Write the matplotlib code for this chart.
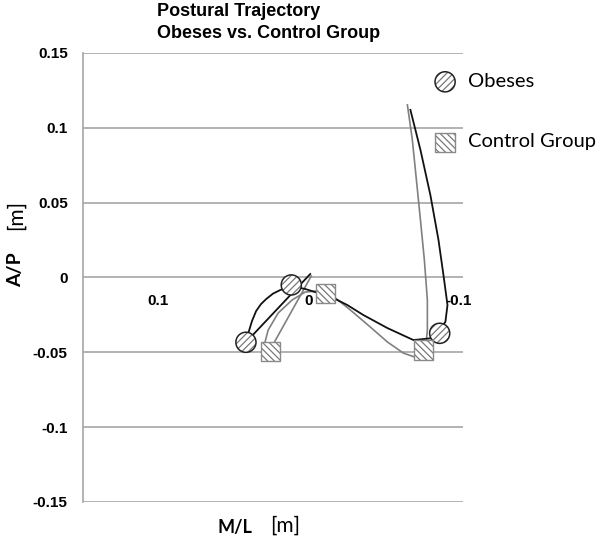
import matplotlib
matplotlib.use("Agg")
import matplotlib.pyplot as plt

plt.rcParams['hatch.color'] = '#7a7a7a'
plt.rcParams['hatch.linewidth'] = 0.9

# Obeses trajectory (black line)
ob_traj_x = [-0.0013, 0.0415, 0.0397, 0.0375, 0.0347, 0.0315, 0.028, 0.0235, 0.0187, 0.0113,
             0.002, -0.0067, -0.0167, -0.026, -0.0367, -0.0527, -0.07, -0.0827, -0.0913,
             -0.0927, -0.09, -0.0867, -0.0813, -0.0747, -0.068]
ob_traj_y = [0.0023, -0.0433, -0.0365, -0.0292, -0.0224, -0.0178, -0.0144, -0.0108, -0.0084, -0.0057,
             -0.0077, -0.0104, -0.0137, -0.0184, -0.0251, -0.0338, -0.0418, -0.0405, -0.0297,
             -0.0184, 0.0017, 0.0251, 0.0551, 0.0852, 0.112]

# Control group trajectory (gray line)
cg_traj_x = [-0.002, 0.024, 0.0293, 0.0267, 0.02, 0.0107, 0.002, -0.0067, -0.018,
             -0.028, -0.0413, -0.0527, -0.0633, -0.0727, -0.078, -0.0793, -0.0793,
             -0.0773, -0.0747, -0.072, -0.0693, -0.066]
cg_traj_y = [0.001, -0.0458, -0.0451, -0.0351, -0.0237, -0.015, -0.0097, -0.009, -0.0137,
             -0.0217, -0.0331, -0.0431, -0.0505, -0.0538, -0.0485, -0.0351, -0.015,
             0.0117, 0.0384, 0.0652, 0.0919, 0.1153]

# Key points (markers)
ob_pts_x = [0.0415, 0.0113, -0.0875]
ob_pts_y = [-0.0433, -0.005, -0.0373]
cg_pts_x = [0.0253, -0.0113, -0.0769]
cg_pts_y = [-0.0496, -0.0106, -0.0485]

y_ticks = [-0.15, -0.1, -0.05, 0, 0.05, 0.1, 0.15]
y_labels = ['-0.15', '-0.1', '-0.05', '0', '0.05', '0.1', '0.15']
x_ticks = [0.1, 0, -0.1]
x_labels = ['0.1', '0', '-0.1']

fig = plt.figure(figsize=(6, 5.4), dpi=100)
ax = fig.add_axes([0.1383, 0.0704, 0.6333, 0.8315])

ax.set_xlim(0.15, -0.103)
ax.set_ylim(-0.15, 0.15)

# trajectories
ax.plot(cg_traj_x, cg_traj_y, color='#808080', lw=1.2, zorder=2)
ax.plot(ob_traj_x, ob_traj_y, color='#111111', lw=1.3, zorder=2)

# markers: hatched fill + outline
ob_fill = ax.scatter(ob_pts_x, ob_pts_y, s=210, marker='o', facecolor='white',
                     edgecolor='#7a7a7a', hatch='/////', linewidth=0, zorder=3)
ob_edge = ax.scatter(ob_pts_x, ob_pts_y, s=210, marker='o', facecolor='none',
                     edgecolor='#222222', linewidth=1.1, zorder=4)
cg_fill = ax.scatter(cg_pts_x, cg_pts_y, s=195, marker='s', facecolor='white',
                     edgecolor='#7a7a7a', hatch='\\\\\\\\\\', linewidth=0, zorder=3)
cg_edge = ax.scatter(cg_pts_x, cg_pts_y, s=195, marker='s', facecolor='none',
                     edgecolor='#8a8a8a', linewidth=1.0, zorder=4)

# axes styling
ax.set_yticks(y_ticks, y_labels)
ax.set_xticks(x_ticks, x_labels)
for s in ['top', 'right', 'bottom']:
    ax.spines[s].set_visible(False)
ax.spines['left'].set_color('#a6a6a6')
ax.spines['left'].set_linewidth(1.2)
ax.spines['bottom'].set_position(('data', 0))
ax.tick_params(axis='y', length=0, pad=11, labelsize=11)
ax.tick_params(axis='x', length=0, pad=12, labelsize=11)
for lbl in ax.get_yticklabels() + ax.get_xticklabels():
    lbl.set_fontweight('bold')
    lbl.set_family('Liberation Sans')
ax.grid(axis='y', color='#a6a6a6', lw=1.2, zorder=1)
ax.set_axisbelow(True)

# legend
fig.legend([(ob_fill, ob_edge), (cg_fill, cg_edge)], ['Obeses', 'Control Group'],
           loc='upper left', bbox_to_anchor=(432 / 600, 1 - 73 / 540),
           frameon=False, borderpad=0, borderaxespad=0, handlelength=1.3,
           handletextpad=0.5, labelspacing=2.15,
           prop={'family': 'Lato', 'size': 14.5})

# title
fig.text(157 / 600, 1 - 11 / 540, 'Postural Trajectory', ha='left', va='center',
         fontsize=13, fontweight='bold', family='Liberation Sans')
fig.text(157 / 600, 1 - 34 / 540, 'Obeses vs. Control Group', ha='left', va='center',
         fontsize=13, fontweight='bold', family='Liberation Sans')

# axis labels
fig.text(235 / 600, 1 - 528 / 540, 'M/L', ha='center', va='center',
         fontsize=13, fontweight='bold', family='Lato')
fig.text(285 / 600, 1 - 526 / 540, '[m]', ha='center', va='center',
         fontsize=15, family='Lato')
fig.text(16 / 600, 1 - 270 / 540, 'A/P', ha='center', va='center', rotation=90,
         fontsize=14, fontweight='bold', family='Lato')
fig.text(16 / 600, 1 - 215 / 540, '[m]', ha='center', va='center', rotation=90,
         fontsize=15, family='Lato')

fig.savefig('out.png', dpi=100)
